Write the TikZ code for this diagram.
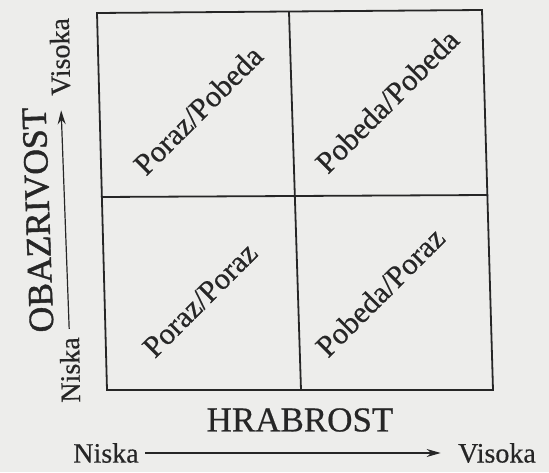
\documentclass[tikz,border=0pt]{standalone}
\usepackage{fontspec}
\setmainfont{Liberation Serif}
\newfontfamily\inkfont{Liberation Serif}[FakeBold=0.5]
\newfontfamily\heavyfont{Liberation Serif}[FakeBold=1.2]
\usetikzlibrary{arrows.meta}
\definecolor{paper}{RGB}{237,237,235}
\definecolor{ink}{RGB}{38,38,38}
\begin{document}
\begin{tikzpicture}[x=1pt,y=1pt,
  frame/.style={draw=ink,line width=1.8pt,line join=miter},
  cell/.style={text=ink,font=\inkfont\fontsize{30.5}{32}\selectfont,rotate=45},
  small/.style={text=ink,font=\inkfont\fontsize{28}{30}\selectfont},
  title/.style={text=ink,font=\inkfont\fontsize{35}{38}\selectfont},
  vtitle/.style={text=ink,font=\heavyfont\fontsize{35.5}{38}\selectfont},
  axis/.style={draw=ink,line width=1.2pt,-{Stealth[length=14pt,width=8pt]}}]
\fill[paper] (0,0) rectangle (549,472);
\useasboundingbox (0,0) rectangle (549,472);
% frame corners
\coordinate (TL) at (97,459);
\coordinate (TR) at (482,462);
\coordinate (BR) at (493,82);
\coordinate (BL) at (107,82);
\coordinate (MT) at (289,460);
\coordinate (MB) at (301,82);
\coordinate (ML) at (101,275);
\coordinate (MR) at (488,277);
\draw[frame] (TL) -- (TR) -- (BR) -- (BL) -- cycle;
\draw[frame] (MT) -- (MB);
\draw[frame] (ML) -- (MR);
% cell labels
\node[cell] (c11) at (198,362) {Poraz/Pobeda};
\node[cell] (c12) at (387,371) {Pobeda/Pobeda};
\node[cell] (c21) at (200,172) {Poraz/Poraz};
\node[cell] (c22) at (380,180) {Pobeda/Poraz};
% vertical axis
\node[vtitle,rotate=92] (oba) at (38,252) {OBAZRIVOST};
\node[small,rotate=91] (vL) at (60,415) {Visoka};
\node[small,rotate=91] (nL) at (70,102) {Niska};
\draw[axis,shorten <=5pt,shorten >=11pt] (nL.east) -- (vL.west);
% horizontal axis
\node[title] (hra) at (300,52) {HRABROST};
\node[small] (nB) at (106,19) {Niska};
\node[small] (vB) at (497,19) {Visoka};
\draw[axis,shorten <=3pt,shorten >=14pt] (nB.east) -- (vB.west);
\end{tikzpicture}
\end{document}
